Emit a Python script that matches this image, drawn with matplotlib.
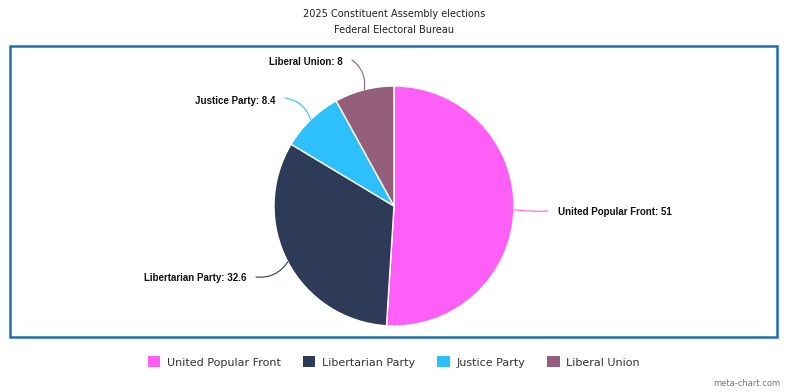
import matplotlib.pyplot as plt
import numpy as np
from matplotlib.patches import Rectangle, Patch

# data
parties = ["United Popular Front", "Libertarian Party", "Justice Party", "Liberal Union"]
seats = [51, 32.6, 8.4, 8]
colors = ["#ff5ef7", "#2e3b58", "#2ec0fd", "#955f7b"]

W, H = 788, 392
fig = plt.figure(figsize=(W / 100, H / 100), dpi=100)
ax = fig.add_axes([0, 0, 1, 1])

def py(y):
    # pixel y (from top) -> data y
    return H - y

# frame
ax.add_patch(Rectangle((10, py(337)), 767, 291, fill=False, edgecolor="#1f6fb6", linewidth=1.8))

cx, cy, r = 394, py(206), 120
wedges, _ = ax.pie(seats, colors=colors, startangle=90, counterclock=False,
                   center=(cx, cy), radius=r, frame=True,
                   wedgeprops=dict(edgecolor="white", linewidth=1))
ax.set_xlim(0, W)
ax.set_ylim(0, H)
ax.set_aspect("equal")
ax.axis("off")

# label positions (text anchor, line end)
label_pos = [
    ((558, 212), (548, 211), "left", -0.05),
    ((247, 278), (256, 277), "right", 0.3),
    ((276, 101), (285, 98), "right", -0.3),
    ((343, 62), (352, 60), "right", -0.3),
]
for w, name, val, c, (tp, lp, ha, rad) in zip(wedges, parties, seats, colors, label_pos):
    ang = np.deg2rad((w.theta1 + w.theta2) / 2)
    x0 = cx + r * np.cos(ang)
    y0 = cy + r * np.sin(ang)
    ax.annotate("", xy=(x0, y0), xytext=(lp[0], py(lp[1])),
                arrowprops=dict(arrowstyle="-", color=c, lw=0.8,
                                connectionstyle=f"arc3,rad={rad}",
                                shrinkA=0, shrinkB=0))
    ax.text(tp[0], py(tp[1]), f"{name}: {val:g}", ha=ha, va="center",
            fontsize=7, fontweight="bold", family="Liberation Sans", color="#111111")

# titles
ax.text(W / 2, py(14), "2025 Constituent Assembly elections", ha="center", va="center",
        fontsize=7, color="#222222")
ax.text(W / 2, py(30), "Federal Electoral Bureau", ha="center", va="center",
        fontsize=7, color="#222222")

# legend
handles = [Patch(facecolor=c, label=p) for p, c in zip(parties, colors)]
fig.legend(handles=handles, loc="center", bbox_to_anchor=(0.5, 1 - 362 / H), ncol=4,
           frameon=False, fontsize=8, handlelength=1.1, handleheight=1.1,
           handletextpad=0.6, columnspacing=2.0, labelcolor="#333333")

ax.text(780, py(383), "meta-chart.com", ha="right", va="center", fontsize=6, color="#777777")

fig.savefig("out.png", dpi=100)
